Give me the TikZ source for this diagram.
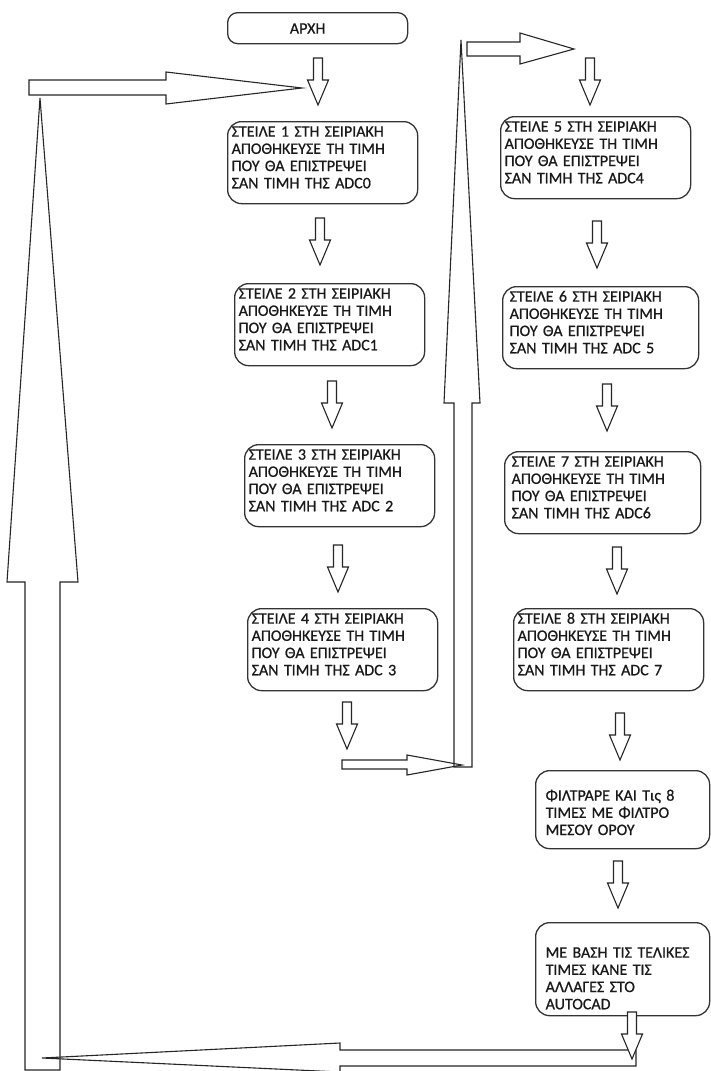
\documentclass[tikz,border=0pt]{standalone}
\usepackage{fontspec}
\setmainfont{Carlito}
\newfontfamily\boxfont{Carlito}[FakeBold=0.7]
\begin{document}
\begin{tikzpicture}[x=1pt,y=-1pt,
  box/.style={draw=black!80, line width=1.3pt, rounded corners=14pt,
    anchor=north west, align=left, inner xsep=4pt, inner ysep=0pt,
    text=black!90, font=\boxfont\fontsize{16}{17.2}\selectfont},
  stepbox/.style={box, minimum width=190pt, text width=182pt, text height=15pt, text depth=67pt},
  endbox/.style={box, inner xsep=10pt, minimum width=174pt, text width=154pt},
  bigarrow/.style={draw=black!85, line width=1.1pt, line join=miter},
  smallarrow/.style={draw=black!85, line width=1.1pt, fill=white, line join=miter},
  dnarrow/.pic={\draw[smallarrow] (-4.5,0) -- (4.5,0) -- (4.5,22) -- (10.5,22)
      -- (0,47) -- (-10.5,22) -- (-4.5,22) -- cycle;}
]
\useasboundingbox (0,0) rectangle (711,1071);
\fill[white] (0,0) rectangle (711,1071);

% start
\node[box, align=center, minimum width=180pt, text height=21pt, text depth=10pt,
      rounded corners=10pt] (start) at (227,12) {ΑΡΧΗ\hspace*{20pt}};

% left column
\node[stepbox] (b1) at (227,121) {ΣΤΕΙΛΕ 1 ΣΤΗ ΣΕΙΡΙΑΚΗ\\ΑΠΟΘΗΚΕΥΣΕ ΤΗ ΤΙΜΗ\\ΠΟΥ ΘΑ ΕΠΙΣΤΡΕΨΕΙ\\ΣΑΝ ΤΙΜΗ ΤΗΣ ADC0};
\node[stepbox] (b2) at (234,283) {ΣΤΕΙΛΕ 2 ΣΤΗ ΣΕΙΡΙΑΚΗ\\ΑΠΟΘΗΚΕΥΣΕ ΤΗ ΤΙΜΗ\\ΠΟΥ ΘΑ ΕΠΙΣΤΡΕΨΕΙ\\ΣΑΝ ΤΙΜΗ ΤΗΣ ADC1};
\node[stepbox] (b3) at (244,444) {ΣΤΕΙΛΕ 3 ΣΤΗ ΣΕΙΡΙΑΚΗ\\ΑΠΟΘΗΚΕΥΣΕ ΤΗ ΤΙΜΗ\\ΠΟΥ ΘΑ ΕΠΙΣΤΡΕΨΕΙ\\ΣΑΝ ΤΙΜΗ ΤΗΣ ADC 2};
\node[stepbox] (b4) at (247,608) {ΣΤΕΙΛΕ 4 ΣΤΗ ΣΕΙΡΙΑΚΗ\\ΑΠΟΘΗΚΕΥΣΕ ΤΗ ΤΙΜΗ\\ΠΟΥ ΘΑ ΕΠΙΣΤΡΕΨΕΙ\\ΣΑΝ ΤΙΜΗ ΤΗΣ ADC 3};

% right column
\node[stepbox] (b5) at (500,116) {ΣΤΕΙΛΕ 5 ΣΤΗ ΣΕΙΡΙΑΚΗ\\ΑΠΟΘΗΚΕΥΣΕ ΤΗ ΤΙΜΗ\\ΠΟΥ ΘΑ ΕΠΙΣΤΡΕΨΕΙ\\ΣΑΝ ΤΙΜΗ ΤΗΣ ADC4};
\node[stepbox, minimum width=196pt] (b6) at (502,286) {ΣΤΕΙΛΕ 6 ΣΤΗ ΣΕΙΡΙΑΚΗ\\ΑΠΟΘΗΚΕΥΣΕ ΤΗ ΤΙΜΗ\\ΠΟΥ ΘΑ ΕΠΙΣΤΡΕΨΕΙ\\ΣΑΝ ΤΙΜΗ ΤΗΣ ADC 5};
\node[stepbox, minimum width=196pt] (b7) at (504,451) {ΣΤΕΙΛΕ 7 ΣΤΗ ΣΕΙΡΙΑΚΗ\\ΑΠΟΘΗΚΕΥΣΕ ΤΗ ΤΙΜΗ\\ΠΟΥ ΘΑ ΕΠΙΣΤΡΕΨΕΙ\\ΣΑΝ ΤΙΜΗ ΤΗΣ ADC6};
\node[stepbox] (b8) at (513,608) {ΣΤΕΙΛΕ 8 ΣΤΗ ΣΕΙΡΙΑΚΗ\\ΑΠΟΘΗΚΕΥΣΕ ΤΗ ΤΙΜΗ\\ΠΟΥ ΘΑ ΕΠΙΣΤΡΕΨΕΙ\\ΣΑΝ ΤΙΜΗ ΤΗΣ ADC 7};
\node[endbox, text height=30pt, text depth=48pt] (filt) at (535,770) {ΦΙΛΤΡΑΡΕ ΚΑΙ Τις 8\\ΤΙΜΕΣ ΜΕ ΦΙΛΤΡΟ\\ΜΕΣΟΥ ΟΡΟΥ};
\node[endbox, text height=35pt, text depth=58pt] (cad) at (535,922) {ΜΕ ΒΑΣΗ ΤΙΣ ΤΕΛΙΚΕΣ\\ΤΙΜΕΣ ΚΑΝΕ ΤΙΣ\\ΑΛΛΑΓΕΣ ΣΤΟ\\AUTOCAD};

% long return arrows
\draw[bigarrow] (25,1070) -- (25,582) -- (7,582) -- (40,98) -- (78,582) -- (60,582) -- (60,1070) -- cycle;
\draw[bigarrow] (29,80) -- (166,80) -- (166,72) -- (302,88) -- (166,104) -- (166,95) -- (29,95) -- cycle;
\draw[bigarrow] (636,1050) -- (340,1050) -- (340,1043) -- (42,1058) -- (340,1072) -- (340,1066) -- (636,1066) -- cycle;
\draw[bigarrow] (342,760) -- (407,760) -- (407,755) -- (462,765) -- (407,775) -- (407,769) -- (342,769) -- cycle;
\draw[bigarrow] (454,767) -- (454,403) -- (444,403) -- (461,40) -- (480,403) -- (472,403) -- (472,767) -- cycle;
\draw[bigarrow] (467,42) -- (520,42) -- (520,33) -- (574,49) -- (520,64) -- (520,56) -- (467,56) -- cycle;

% step arrows
\pic at (318,58) {dnarrow};
\pic at (320,218) {dnarrow};
\pic at (332,381) {dnarrow};
\pic at (338,545) {dnarrow};
\pic at (347,702) {dnarrow};
\pic at (590,58) {dnarrow};
\pic at (597,221) {dnarrow};
\pic at (607,384) {dnarrow};
\pic at (617,547) {dnarrow};
\pic at (620,713) {dnarrow};
\pic at (618,861) {dnarrow};
\pic at (632,1012) {dnarrow};
\end{tikzpicture}
\end{document}
